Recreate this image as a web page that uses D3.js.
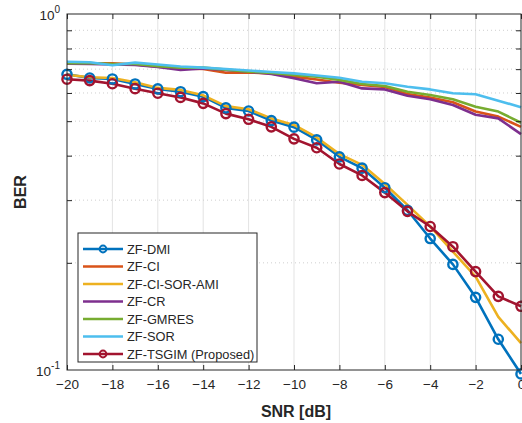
<!DOCTYPE html>
<html>
<head>
<meta charset="utf-8">
<script src="https://cdn.jsdelivr.net/npm/d3@7"></script>
<style>
  body { margin: 0; background: #fff; }
  svg { font-family: "Liberation Sans", Arial, sans-serif; }
</style>
</head>
<body>
<div id="chart"></div>
<script>
const snr = d3.range(-20, 1);

const dmi = [0.677, 0.661, 0.657, 0.636, 0.616, 0.605, 0.586, 0.545, 0.534, 0.502, 0.481,
  0.443, 0.397, 0.369, 0.325, 0.281, 0.234, 0.198, 0.160, 0.122, 0.0975];
const ci = [0.725, 0.727, 0.727, 0.721, 0.711, 0.703, 0.701, 0.684, 0.685, 0.681, 0.667,
  0.655, 0.641, 0.632, 0.624, 0.596, 0.583, 0.565, 0.532, 0.515, 0.482];
const ciSorAmi = [0.675, 0.664, 0.661, 0.643, 0.620, 0.612, 0.591, 0.551, 0.540, 0.509, 0.488,
  0.450, 0.404, 0.377, 0.333, 0.291, 0.253, 0.215, 0.183, 0.141, 0.119];
const cr = [0.725, 0.724, 0.721, 0.719, 0.710, 0.696, 0.703, 0.696, 0.689, 0.678, 0.660,
  0.639, 0.645, 0.618, 0.614, 0.589, 0.576, 0.555, 0.521, 0.509, 0.460];
const gmres = [0.728, 0.728, 0.724, 0.724, 0.714, 0.707, 0.707, 0.698, 0.689, 0.683, 0.674,
  0.667, 0.653, 0.636, 0.628, 0.605, 0.592, 0.576, 0.549, 0.532, 0.495];
const sor = [0.734, 0.732, 0.718, 0.730, 0.721, 0.712, 0.707, 0.701, 0.694, 0.687, 0.681,
  0.672, 0.662, 0.645, 0.639, 0.625, 0.614, 0.599, 0.595, 0.571, 0.547];
const tsgim = [0.656, 0.650, 0.637, 0.617, 0.599, 0.583, 0.561, 0.525, 0.506, 0.482, 0.446,
  0.421, 0.379, 0.352, 0.315, 0.279, 0.253, 0.222, 0.189, 0.161, 0.151];

const names = ["ZF-DMI", "ZF-CI", "ZF-CI-SOR-AMI", "ZF-CR", "ZF-GMRES", "ZF-SOR", "ZF-TSGIM (Proposed)"];
const colors = ["#0072BD", "#D95319", "#EDB120", "#7E2F8E", "#77AC30", "#4DBEEE", "#A2142F"];
const markers = [true, false, false, false, false, false, true];
const xTicks = d3.range(-20, 1, 2);

const series = [dmi, ci, ciSorAmi, cr, gmres, sor, tsgim].map((v, i) => ({
  name: names[i], color: colors[i], marker: markers[i], values: v
}));

const width = 522;
const height = 423;
const margin = { top: 14, right: 1, bottom: 53, left: 67 };

const svg = d3.select('#chart')
  .append('svg')
  .attr('width', width)
  .attr('height', height);

const x = d3.scaleLinear()
  .domain([-20, 0])
  .range([margin.left, width - margin.right]);

const y = d3.scaleLog()
  .domain([0.1, 1])
  .range([height - margin.bottom, margin.top]);

const minor = d3.range(2, 10).map(d => d / 10);

// grid
svg.append("g")
  .selectAll("line")
  .data(xTicks.slice(1, -1))
  .join("line")
    .attr("x1", d => x(d)).attr("x2", d => x(d))
    .attr("y1", y(0.1)).attr("y2", y(1))
    .attr("stroke", "#e3e3e3")
    .attr("stroke-width", 1);

svg.append("g")
  .selectAll("line")
  .data(minor)
  .join("line")
    .attr("x1", x(-20)).attr("x2", x(0))
    .attr("y1", d => y(d)).attr("y2", d => y(d))
    .attr("stroke", "#cfcfcf")
    .attr("stroke-width", 1)
    .attr("stroke-dasharray", "1,3");

// lines
const line = d3.line()
  .x((d, i) => x(snr[i]))
  .y(d => y(d));

const plot = svg.append("g");

series.forEach(s => {
  plot.append("path")
    .datum(s.values)
    .attr("fill", "none")
    .attr("stroke", s.color)
    .attr("stroke-width", 2.6)
    .attr("stroke-linejoin", "round")
    .attr("d", line);
});

series.filter(s => s.marker).forEach(s => {
  plot.append("g")
    .selectAll("circle")
    .data(s.values)
    .join("circle")
      .attr("cx", (d, i) => x(snr[i]))
      .attr("cy", d => y(d))
      .attr("r", 4.6)
      .attr("fill", "none")
      .attr("stroke", s.color)
      .attr("stroke-width", 2.4);
});

// axes
const axisColor = "#262626";

function xAxis(g) {
  g.attr("transform", `translate(0,${height - margin.bottom})`)
    .call(d3.axisBottom(x).tickValues(xTicks).tickSize(-5).tickPadding(9).tickFormat(d3.format("d")))
    .attr("font-size", 13.5)
    .attr("font-family", null);
  g.select(".domain").remove();
  g.selectAll("line").attr("stroke", axisColor);
  g.selectAll("text").attr("fill", axisColor);
}

function xAxisTop(g) {
  g.attr("transform", `translate(0,${margin.top})`)
    .call(d3.axisTop(x).tickValues(xTicks).tickSize(-5).tickFormat(""));
  g.select(".domain").remove();
  g.selectAll("line").attr("stroke", axisColor);
}

svg.append("g").call(xAxis);
svg.append("g").call(xAxisTop);

function yAxis(g) {
  g.attr("transform", `translate(${margin.left},0)`)
    .call(d3.axisLeft(y).tickValues(minor).tickSize(-5).tickFormat(""));
  g.select(".domain").remove();
  g.selectAll("line").attr("stroke", axisColor);
}

function yAxisRight(g) {
  g.attr("transform", `translate(${width - margin.right},0)`)
    .call(d3.axisRight(y).tickValues(minor).tickSize(-5).tickFormat(""));
  g.select(".domain").remove();
  g.selectAll("line").attr("stroke", axisColor);
}

svg.append("g").call(yAxis);
svg.append("g").call(yAxisRight);

// y decade labels
const decades = [{ v: 1, exp: "0" }, { v: 0.1, exp: "-1" }];
decades.forEach(d => {
  const t = svg.append("text")
    .attr("x", margin.left - 7)
    .attr("y", y(d.v) + 6)
    .attr("text-anchor", "end")
    .attr("font-size", 13.5)
    .attr("fill", axisColor);
  t.append("tspan").text("10");
  t.append("tspan").attr("dy", -7).attr("font-size", 10).text(d.exp);
});

// box
svg.append("rect")
  .attr("x", x(-20))
  .attr("y", y(1))
  .attr("width", x(0) - x(-20))
  .attr("height", y(0.1) - y(1))
  .attr("fill", "none")
  .attr("stroke", axisColor)
  .attr("stroke-width", 1);

// labels
svg.append("text")
  .attr("x", 296)
  .attr("y", 417)
  .attr("text-anchor", "middle")
  .attr("font-size", 16)
  .attr("font-weight", "bold")
  .attr("fill", axisColor)
  .text("SNR [dB]");

svg.append("text")
  .attr("transform", `translate(26,${(margin.top + height - margin.bottom) / 2}) rotate(-90)`)
  .attr("text-anchor", "middle")
  .attr("font-size", 16)
  .attr("font-weight", "bold")
  .attr("fill", axisColor)
  .text("BER");

// legend
const legend = svg.append("g").attr("transform", "translate(78,233)");

legend.append("rect")
  .attr("width", 179)
  .attr("height", 129)
  .attr("fill", "#fff")
  .attr("stroke", axisColor)
  .attr("stroke-width", 1);

series.forEach((s, i) => {
  const row = legend.append("g").attr("transform", `translate(0,${16 + i * 17.5})`);
  row.append("line")
    .attr("x1", 5).attr("x2", 45)
    .attr("stroke", s.color)
    .attr("stroke-width", 2.6);
  if (s.marker) {
    row.append("circle")
      .attr("cx", 25)
      .attr("r", 3.4)
      .attr("fill", "none")
      .attr("stroke", s.color)
      .attr("stroke-width", 2);
  }
  row.append("text")
    .attr("x", 49)
    .attr("y", 4.5)
    .attr("font-size", 12.8)
    .attr("fill", axisColor)
    .text(s.name);
});
</script>
</body>
</html>
